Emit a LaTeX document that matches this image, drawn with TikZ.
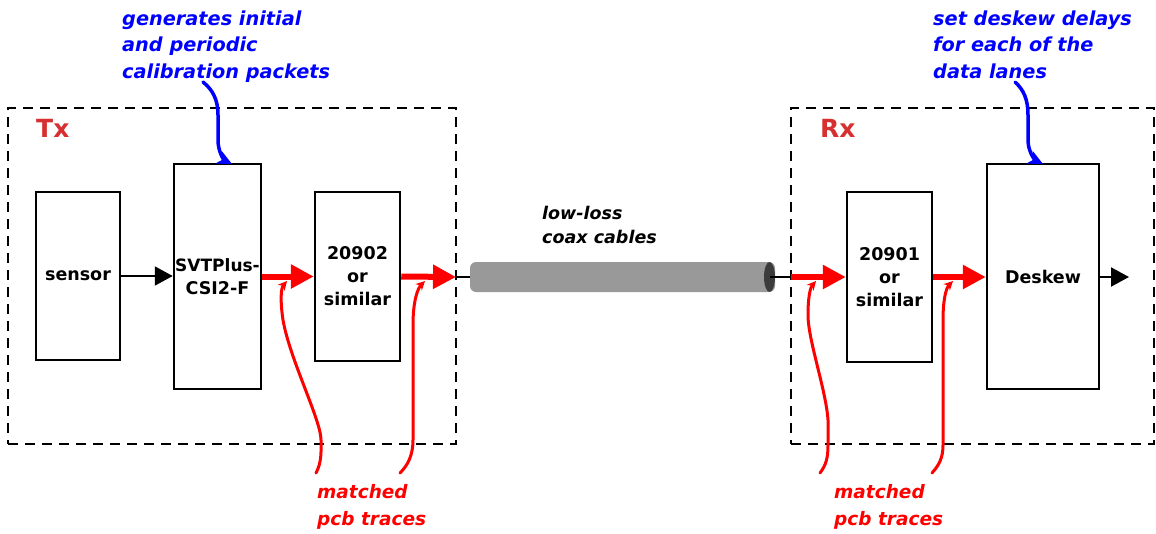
\documentclass[tikz,border=0pt]{standalone}
\usepackage{fontspec}
\setmainfont{DejaVu Sans}
\usetikzlibrary{arrows.meta,shapes.geometric}
\definecolor{labelred}{RGB}{214,48,48}
\definecolor{cablegray}{RGB}{153,153,153}
\definecolor{cableend}{RGB}{60,60,60}
\begin{document}
\begin{tikzpicture}[x=1pt,y=-1pt,
  block/.style={draw, line width=2.5pt, inner sep=0pt, align=center,
    font=\fontsize{17.5}{23}\selectfont\bfseries},
  group/.style={draw, line width=2.5pt, dash pattern=on 10pt off 7pt, inner sep=0pt},
  grouplabel/.style={text=labelred, inner sep=0pt, anchor=base west,
    font=\fontsize{25}{30}\selectfont\bfseries},
  bus/.style={red, line width=6pt, -{Triangle[length=23pt,width=23pt]}},
  wire/.style={line width=2pt, -{Triangle[length=18pt,width=19pt]}},
  plain/.style={line width=2pt},
  trace/.style={red, line width=3pt, line cap=round, -{Stealth[length=9pt,width=9pt]}},
  callout/.style={blue, line width=3.5pt, line cap=round, -{Stealth[length=15pt,width=14pt]}},
  annot/.style={inner sep=0pt, align=left, anchor=base west,
    font=\fontsize{18.5}{26.5}\selectfont\bfseries\itshape},
  bluenote/.style={annot, text=blue, font=\fontsize{19.3}{26.5}\selectfont\bfseries\itshape},
]
\useasboundingbox (0,0) rectangle (1156,533);

% transmitter and receiver enclosures
\node[group, minimum width=448, minimum height=336] (txgrp) at (232,276) {};
\node[group, minimum width=363, minimum height=336] (rxgrp) at (972.5,276) {};
\node[grouplabel] (txlbl) at (36,137) {Tx};
\node[grouplabel] (rxlbl) at (820,137) {Rx};

% functional blocks
\node[block, minimum width=84, minimum height=168] (sensor) at (78,276) {sensor};
\node[block, minimum width=87, minimum height=225] (svt) at (217.5,276.5)
  {\fontsize{17}{23}\selectfont SVTPlus-\\CSI2-F};
\node[block, minimum width=85, minimum height=169] (ser) at (357.5,276.5) {20902\\or\\similar};
\node[block, minimum width=85, minimum height=170] (des) at (889.5,277) {20901\\or\\similar};
\node[block, minimum width=112, minimum height=225] (desk) at (1043,276.5) {Deskew};

% coax cable
\node[fill=cablegray, rounded corners=6pt, minimum width=305, minimum height=30,
      inner sep=0pt] (cable) at (622.5,277) {};
\node[ellipse, fill=cableend, minimum width=11, minimum height=30,
      inner sep=0pt] (cablend) at (769.5,277) {};
\node[annot, font=\fontsize{17.5}{24}\selectfont\bfseries\itshape] (cablelbl)
      at (542,243) {low-loss\\coax cables};

% ports on the enclosure edges and free ends
\coordinate (txport) at (456,277);
\coordinate (rxport) at (791,277);
\coordinate (outp) at (1129,277);

% signal path
\draw[wire] (sensor.east) -- (svt.west |- sensor.east);
\draw[bus] (svt.east |- ser.west) -- (ser.west);
\draw[bus] (ser.east) -- (txport);
\draw[plain] (txport) -- (cable.west);
\draw[plain] (cablend.center) -- (rxport);
\draw[bus] (rxport) -- (des.west);
\draw[bus] (des.east) -- (desk.west |- des.east);
\draw[wire] (desk.east |- des.east) -- (outp);

% callouts
\node[bluenote] (gennote) at (122,78)
  {generates initial\\and periodic\\calibration packets};
\node[bluenote] (desknote) at (933,78)
  {set deskew delays\\for each of the\\data lanes};
\node[annot, text=red] (txtrace) at (317,525) {matched\\pcb traces};
\node[annot, text=red] (rxtrace) at (834,525) {matched\\pcb traces};

\coordinate (gens) at (203,82);
\coordinate (svtin) at (232,164);
\coordinate (desks) at (1015,82);
\coordinate (deskin) at (1043,164);
\draw[callout] (gens) .. controls (213,90) and (218,100) .. (218,115) -- (218,140)
  .. controls (218,152) and (224,160) .. (svtin);
\draw[callout] (desks) .. controls (1024,90) and (1028,100) .. (1028,115) -- (1028,140)
  .. controls (1028,152) and (1035,160) .. (deskin);

% matched trace pointers
\coordinate (ta) at (316,473);  \coordinate (tae) at (287,281);
\coordinate (tb) at (400,473);  \coordinate (tbe) at (425,281);
\coordinate (tc) at (820,473);  \coordinate (tce) at (816,281);
\coordinate (td) at (932,473);  \coordinate (tde) at (953,281);
\draw[trace] (ta) .. controls (322,462) and (321,450) .. (321,440)
  .. controls (321,420) and (290,360) .. (283,320)
  .. controls (280,300) and (281,288) .. (tae);
\draw[trace] (tb) .. controls (408,465) and (413,455) .. (413,440) -- (413,325)
  .. controls (413,300) and (418,288) .. (tbe);
\draw[trace] (tc) .. controls (826,465) and (828,458) .. (828,445) -- (828,420)
  .. controls (826,390) and (808,340) .. (808,315)
  .. controls (808,298) and (810,288) .. (tce);
\draw[trace] (td) .. controls (939,465) and (943,458) .. (943,445) -- (943,320)
  .. controls (943,300) and (946,288) .. (tde);
\end{tikzpicture}
\end{document}
